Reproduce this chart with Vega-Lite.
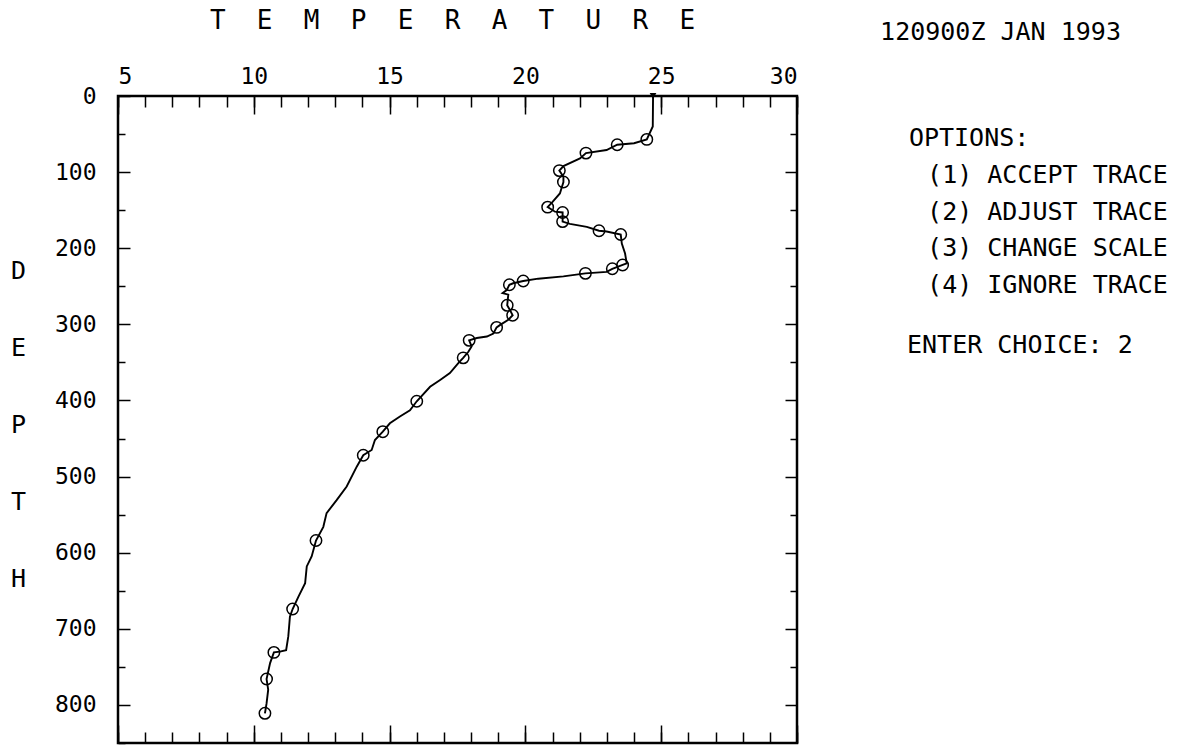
{
  "$schema": "https://vega.github.io/schema/vega-lite/v6.json",
  "width": 679,
  "height": 647,
  "autosize": {"type": "none"},
  "padding": {"left": 118, "top": 96, "right": 384, "bottom": 12},
  "background": "white",
  "config": {
    "view": {"stroke": "black", "strokeWidth": 2.5},
    "font": "DejaVu Sans Mono",
    "axis": {
      "grid": false,
      "domain": false,
      "tickColor": "black",
      "tickWidth": 1.5,
      "labelColor": "black",
      "titleColor": "black",
      "labelFont": "DejaVu Sans Mono",
      "titleFont": "DejaVu Sans Mono",
      "labelFontSize": 23,
      "labelOverlap": false,
      "titleFontWeight": "normal"
    }
  },
  "datasets": {
    "trace": [
      {"i": 1, "t": 24.7, "d": 0, "o": 0},
      {"i": 2, "t": 24.69, "d": 40, "o": 0},
      {"i": 3, "t": 24.47, "d": 57, "o": 1},
      {"i": 4, "t": 24.0, "d": 62, "o": 0},
      {"i": 5, "t": 23.38, "d": 64, "o": 1},
      {"i": 6, "t": 22.99, "d": 71, "o": 0},
      {"i": 7, "t": 22.23, "d": 75, "o": 1},
      {"i": 8, "t": 22.01, "d": 82, "o": 0},
      {"i": 9, "t": 21.4, "d": 92, "o": 0},
      {"i": 10, "t": 21.25, "d": 98, "o": 1},
      {"i": 11, "t": 21.4, "d": 106, "o": 0},
      {"i": 12, "t": 21.4, "d": 113, "o": 1},
      {"i": 13, "t": 21.27, "d": 128, "o": 0},
      {"i": 14, "t": 21.0, "d": 139, "o": 0},
      {"i": 15, "t": 20.82, "d": 146, "o": 1},
      {"i": 16, "t": 21.09, "d": 152, "o": 0},
      {"i": 17, "t": 21.37, "d": 153, "o": 1},
      {"i": 18, "t": 21.37, "d": 165, "o": 1},
      {"i": 19, "t": 21.64, "d": 168, "o": 0},
      {"i": 20, "t": 22.26, "d": 172, "o": 0},
      {"i": 21, "t": 22.71, "d": 177, "o": 1},
      {"i": 22, "t": 22.99, "d": 178, "o": 0},
      {"i": 23, "t": 23.51, "d": 182, "o": 1},
      {"i": 24, "t": 23.55, "d": 194, "o": 0},
      {"i": 25, "t": 23.67, "d": 207, "o": 0},
      {"i": 26, "t": 23.73, "d": 220, "o": 0},
      {"i": 27, "t": 23.58, "d": 222, "o": 1},
      {"i": 28, "t": 23.2, "d": 227, "o": 1},
      {"i": 29, "t": 22.99, "d": 231, "o": 0},
      {"i": 30, "t": 22.21, "d": 233, "o": 1},
      {"i": 31, "t": 21.4, "d": 237, "o": 0},
      {"i": 32, "t": 20.47, "d": 240, "o": 0},
      {"i": 33, "t": 19.92, "d": 243, "o": 1},
      {"i": 34, "t": 19.55, "d": 246, "o": 0},
      {"i": 35, "t": 19.41, "d": 248, "o": 1},
      {"i": 36, "t": 19.31, "d": 255, "o": 0},
      {"i": 37, "t": 19.16, "d": 259, "o": 0},
      {"i": 38, "t": 19.37, "d": 261, "o": 0},
      {"i": 39, "t": 19.33, "d": 275, "o": 1},
      {"i": 40, "t": 19.43, "d": 281, "o": 0},
      {"i": 41, "t": 19.53, "d": 288, "o": 1},
      {"i": 42, "t": 19.37, "d": 294, "o": 0},
      {"i": 43, "t": 19.06, "d": 301, "o": 0},
      {"i": 44, "t": 18.94, "d": 304, "o": 1},
      {"i": 45, "t": 18.82, "d": 312, "o": 0},
      {"i": 46, "t": 18.58, "d": 316, "o": 0},
      {"i": 47, "t": 18.21, "d": 318, "o": 0},
      {"i": 48, "t": 17.93, "d": 321, "o": 1},
      {"i": 49, "t": 18.02, "d": 329, "o": 0},
      {"i": 50, "t": 17.9, "d": 336, "o": 0},
      {"i": 51, "t": 17.71, "d": 344, "o": 1},
      {"i": 52, "t": 17.53, "d": 351, "o": 0},
      {"i": 53, "t": 17.22, "d": 364, "o": 0},
      {"i": 54, "t": 16.86, "d": 373, "o": 0},
      {"i": 55, "t": 16.49, "d": 382, "o": 0},
      {"i": 56, "t": 16.0, "d": 401, "o": 1},
      {"i": 57, "t": 15.75, "d": 413, "o": 0},
      {"i": 58, "t": 15.38, "d": 421, "o": 0},
      {"i": 59, "t": 15.01, "d": 430, "o": 0},
      {"i": 60, "t": 14.75, "d": 441, "o": 1},
      {"i": 61, "t": 14.46, "d": 452, "o": 0},
      {"i": 62, "t": 14.34, "d": 465, "o": 0},
      {"i": 63, "t": 14.03, "d": 472, "o": 1},
      {"i": 64, "t": 13.79, "d": 487, "o": 0},
      {"i": 65, "t": 13.42, "d": 513, "o": 0},
      {"i": 66, "t": 13.05, "d": 531, "o": 0},
      {"i": 67, "t": 12.68, "d": 548, "o": 0},
      {"i": 68, "t": 12.56, "d": 566, "o": 0},
      {"i": 69, "t": 12.29, "d": 584, "o": 1},
      {"i": 70, "t": 12.13, "d": 605, "o": 0},
      {"i": 71, "t": 11.95, "d": 618, "o": 0},
      {"i": 72, "t": 11.89, "d": 640, "o": 0},
      {"i": 73, "t": 11.64, "d": 658, "o": 0},
      {"i": 74, "t": 11.43, "d": 674, "o": 1},
      {"i": 75, "t": 11.33, "d": 684, "o": 0},
      {"i": 76, "t": 11.27, "d": 710, "o": 0},
      {"i": 77, "t": 11.19, "d": 728, "o": 0},
      {"i": 78, "t": 10.96, "d": 730, "o": 0},
      {"i": 79, "t": 10.74, "d": 731, "o": 1},
      {"i": 80, "t": 10.6, "d": 745, "o": 0},
      {"i": 81, "t": 10.47, "d": 766, "o": 1},
      {"i": 82, "t": 10.53, "d": 780, "o": 0},
      {"i": 83, "t": 10.47, "d": 798, "o": 0},
      {"i": 84, "t": 10.41, "d": 811, "o": 1}
    ],
    "notes": [
      {"note": "120900Z JAN 1993", "t": 33.06, "d": -84},
      {"note": "OPTIONS:", "t": 34.12, "d": 55},
      {"note": "(1) ACCEPT TRACE", "t": 34.79, "d": 104},
      {"note": "(2) ADJUST TRACE", "t": 34.79, "d": 152},
      {"note": "(3) CHANGE SCALE", "t": 34.79, "d": 200},
      {"note": "(4) IGNORE TRACE", "t": 34.79, "d": 248},
      {"note": "ENTER CHOICE: 2", "t": 34.05, "d": 327}
    ]
  },
  "resolve": {"axis": {"x": "independent", "y": "independent"}},
  "layer": [
    {
      "data": {"name": "trace"},
      "mark": {"type": "line", "color": "black", "strokeWidth": 1.9, "clip": false},
      "encoding": {
        "x": {
          "field": "t", "type": "quantitative",
          "scale": {"domain": [5, 30], "nice": false, "zero": false},
          "axis": {
            "orient": "top", "values": [5, 10, 15, 20, 25, 30],
            "tickSize": 18, "offset": -18, "labelPadding": 8,
            "title": "T\u00a0\u00a0E\u00a0\u00a0M\u00a0\u00a0P\u00a0\u00a0E\u00a0\u00a0R\u00a0\u00a0A\u00a0\u00a0T\u00a0\u00a0U\u00a0\u00a0R\u00a0\u00a0E",
            "titleFontSize": 26, "titleX": 334, "titleY": -94,
            "titleAlign": "center", "titleBaseline": "middle"
          }
        },
        "y": {
          "field": "d", "type": "quantitative",
          "scale": {"domain": [0, 850], "nice": false, "zero": false, "reverse": true},
          "axis": {
            "orient": "left", "values": [0, 100, 200, 300, 400, 500, 600, 700, 800],
            "tickSize": 12, "offset": -12, "labelPadding": 22,
            "title": ["D", "E", "P", "T", "H"],
            "titleAngle": 0, "titleFontSize": 25, "titleLineHeight": 77,
            "titleX": -112, "titleY": 174,
            "titleAlign": "center", "titleBaseline": "middle"
          }
        },
        "order": {"field": "i", "type": "quantitative"}
      }
    },
    {
      "data": {"name": "trace"},
      "transform": [{"filter": "datum.o == 1"}],
      "mark": {"type": "point", "shape": "circle", "filled": false, "color": "black", "strokeWidth": 1.5, "size": 130, "opacity": 1},
      "encoding": {
        "x": {
          "field": "t", "type": "quantitative",
          "scale": {"domain": [5, 30], "nice": false, "zero": false},
          "axis": {
            "orient": "top", "values": [5, 6, 7, 8, 9, 10, 11, 12, 13, 14, 15, 16, 17, 18, 19, 20, 21, 22, 23, 24, 25, 26, 27, 28, 29, 30],
            "tickSize": 11, "offset": -11, "labels": false, "title": null
          }
        },
        "y": {
          "field": "d", "type": "quantitative",
          "scale": {"domain": [0, 850], "nice": false, "zero": false, "reverse": true},
          "axis": {
            "orient": "left", "values": [50, 150, 250, 350, 450, 550, 650, 750, 850],
            "tickSize": 7, "offset": -7, "labels": false, "title": null
          }
        }
      }
    },
    {
      "data": {"name": "notes"},
      "mark": {"type": "text", "align": "left", "baseline": "middle", "font": "DejaVu Sans Mono", "fontSize": 25, "color": "black", "clip": false},
      "encoding": {
        "x": {
          "field": "t", "type": "quantitative",
          "scale": {"domain": [5, 30], "nice": false, "zero": false},
          "axis": {
            "orient": "bottom", "values": [5, 10, 15, 20, 25, 30],
            "tickSize": 18, "offset": -18, "labels": false, "title": null
          }
        },
        "y": {
          "field": "d", "type": "quantitative",
          "scale": {"domain": [0, 850], "nice": false, "zero": false, "reverse": true},
          "axis": {
            "orient": "right", "values": [100, 200, 300, 400, 500, 600, 700, 800],
            "tickSize": 12, "offset": -12, "labels": false, "title": null
          }
        },
        "text": {"field": "note", "type": "nominal"}
      }
    },
    {
      "data": {"name": "trace"},
      "transform": [{"filter": "datum.i == 1"}],
      "mark": {"type": "point", "shape": "triangle-down", "filled": true, "color": "black", "size": 45, "opacity": 1},
      "encoding": {
        "x": {
          "field": "t", "type": "quantitative",
          "scale": {"domain": [5, 30], "nice": false, "zero": false},
          "axis": {
            "orient": "bottom", "values": [5, 6, 7, 8, 9, 10, 11, 12, 13, 14, 15, 16, 17, 18, 19, 20, 21, 22, 23, 24, 25, 26, 27, 28, 29, 30],
            "tickSize": 11, "offset": -11, "labels": false, "title": null
          }
        },
        "y": {
          "field": "d", "type": "quantitative",
          "scale": {"domain": [0, 850], "nice": false, "zero": false, "reverse": true},
          "axis": {
            "orient": "right", "values": [50, 150, 250, 350, 450, 550, 650, 750],
            "tickSize": 7, "offset": -7, "labels": false, "title": null
          }
        }
      }
    }
  ]
}
